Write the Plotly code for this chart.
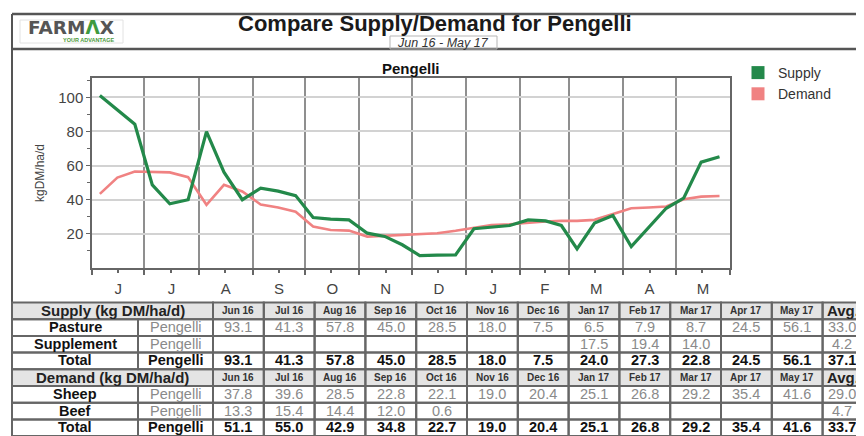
import plotly.graph_objects as go

W, H = 864, 436
OFF = 8                      # page body margin of the html page
FW, FH = W - OFF, H - OFF    # figure size so that it fills the window
FONT = "Arial, Liberation Sans, sans-serif"

# ---------------- chart data (dekad mid-points) ----------------
dates = [
    "2016-06-05 12:00", "2016-06-15 12:00", "2016-06-25 12:00",
    "2016-07-05 12:00", "2016-07-15 12:00", "2016-07-26",
    "2016-08-05 12:00", "2016-08-15 12:00", "2016-08-26",
    "2016-09-05 12:00", "2016-09-15 12:00", "2016-09-25 12:00",
    "2016-10-05 12:00", "2016-10-15 12:00", "2016-10-26",
    "2016-11-05 12:00", "2016-11-15 12:00", "2016-11-25 12:00",
    "2016-12-05 12:00", "2016-12-15 12:00", "2016-12-26",
    "2017-01-05 12:00", "2017-01-15 12:00", "2017-01-26",
    "2017-02-05 12:00", "2017-02-15 12:00", "2017-02-24 12:00",
    "2017-03-05 12:00", "2017-03-15 12:00", "2017-03-26",
    "2017-04-05 12:00", "2017-04-15 12:00", "2017-04-25 12:00",
    "2017-05-05 12:00", "2017-05-15 12:00", "2017-05-26",
]
supply = [101, 92.6, 84.2, 48.7, 37.6, 40, 79.9, 56.1, 40, 46.8, 45, 42.4,
          29.6, 28.6, 28.2, 20.4, 18.5, 13.6, 7.3, 7.5, 7.7, 23, 24.1, 24.9,
          28.2, 27.6, 24.9, 11.2, 26.3, 30.7, 12.6, 23.7, 35, 40.9, 62, 65.2]
demand = [43.4, 53, 56.5, 56.3, 56, 53.2, 37, 48.7, 44.8, 37.2, 35.4, 33,
          24.3, 22.3, 21.9, 18.4, 19.0, 19.4, 19.8, 20.4, 21.8, 23.7, 25.2, 25.6,
          26.6, 27.2, 27.6, 27.6, 28.2, 31.5, 35, 35.4, 36, 40.3, 41.8, 42.2]

mid_months = ["2016-06-16", "2016-07-16", "2016-08-16", "2016-09-16", "2016-10-16",
              "2016-11-16", "2016-12-16", "2017-01-16", "2017-02-15", "2017-03-16",
              "2017-04-16", "2017-05-16"]
month_alias = {"Jun": "J", "Jul": "J", "Aug": "A", "Sep": "S", "Oct": "O", "Nov": "N",
               "Dec": "D", "Jan": "J", "Feb": "F", "Mar": "M", "Apr": "A", "May": "M"}
y_ticks = [20, 40, 60, 80, 100]
y_minor = [10, 30, 50, 70, 90, 110]

# ---------------- table data ----------------
months = ["Jun 16", "Jul 16", "Aug 16", "Sep 16", "Oct 16", "Nov 16", "Dec 16",
          "Jan 17", "Feb 17", "Mar 17", "Apr 17", "May 17"]
pasture = [93.1, 41.3, 57.8, 45.0, 28.5, 18.0, 7.5, 6.5, 7.9, 8.7, 24.5, 56.1]
pasture_avg = 33.0
supplement = [None, None, None, None, None, None, None, 17.5, 19.4, 14.0, None, None]
supplement_avg = 4.2
supply_total = [93.1, 41.3, 57.8, 45.0, 28.5, 18.0, 7.5, 24.0, 27.3, 22.8, 24.5, 56.1]
supply_total_avg = 37.1
sheep = [37.8, 39.6, 28.5, 22.8, 22.1, 19.0, 20.4, 25.1, 26.8, 29.2, 35.4, 41.6]
sheep_avg = 29.0
beef = [13.3, 15.4, 14.4, 12.0, 0.6, None, None, None, None, None, None, None]
beef_avg = 4.7
demand_total = [51.1, 55.0, 42.9, 34.8, 22.7, 19.0, 20.4, 25.1, 26.8, 29.2, 35.4, 41.6]
demand_total_avg = 33.7
farm = "Pengelli"

SUPPLY_C = "#23894a"
DEMAND_C = "#f08282"

fig = go.Figure()
fig.add_trace(go.Scatter(x=dates, y=demand, mode="lines", name="Demand",
                         line=dict(color=DEMAND_C, width=2.6), showlegend=False))
fig.add_trace(go.Scatter(x=dates, y=supply, mode="lines", name="Supply",
                         line=dict(color=SUPPLY_C, width=3.2), showlegend=False))
# legend swatches
fig.add_trace(go.Scatter(x=[None], y=[None], mode="markers", name="Supply",
                         marker=dict(symbol="square", size=13, color=SUPPLY_C)))
fig.add_trace(go.Scatter(x=[None], y=[None], mode="markers", name="Demand",
                         marker=dict(symbol="square", size=13, color=DEMAND_C)))


def px(x):
    return (x - OFF) / FW


def py(y):
    return 1 - (y - OFF) / FH


fig.update_layout(
    width=FW, height=FH, margin=dict(l=0, r=0, t=0, b=0),
    paper_bgcolor="white", plot_bgcolor="white",
    font=dict(family=FONT, color="#333"),
    legend=dict(x=px(738), y=py(57), xanchor="left", yanchor="top",
                font=dict(size=14, color="#333"), bgcolor="rgba(0,0,0,0)",
                tracegroupgap=0),
    xaxis=dict(
        type="date", domain=[px(92), px(730)],
        range=["2016-06-01", "2017-06-01"],
        dtick="M1", tick0="2016-06-01", tickformat="%b", ticklabelmode="period",
        labelalias=month_alias,
        showgrid=True, gridcolor="#8f8f8f", gridwidth=1.5,
        ticks="outside", ticklen=5, tickcolor="#666", tickwidth=1.5,
        ticklabelstandoff=1,
        showline=True, linecolor="#666", linewidth=1.5, mirror=True,
        tickfont=dict(size=15, color="#444"),
        minor=dict(tickvals=mid_months, ticks="outside", ticklen=3,
                   tickcolor="#666", showgrid=False),
    ),
    yaxis=dict(
        domain=[py(268), py(78)], range=[0, 111.3],
        tickvals=y_ticks, showgrid=True, gridcolor="#d2d2d2", gridwidth=2,
        ticks="outside", ticklen=4, tickcolor="#666",
        showline=True, linecolor="#666", linewidth=1.5, mirror=True,
        zeroline=False, tickfont=dict(size=15, color="#444"),
        minor=dict(tickvals=y_minor, ticks="outside", ticklen=3,
                   tickcolor="#666", showgrid=False),
    ),
)

shapes = []
annots = []


def line(x0, y0, x1, y1, color="#555", width=2):
    shapes.append(dict(type="line", xref="paper", yref="paper",
                       x0=px(x0), y0=py(y0), x1=px(x1), y1=py(y1),
                       line=dict(color=color, width=width)))


def rect(x0, y0, x1, y1, fill=None, color="#666", width=2):
    shapes.append(dict(type="rect", xref="paper", yref="paper",
                       x0=px(x0), y0=py(y0), x1=px(x1), y1=py(y1),
                       fillcolor=fill if fill else "rgba(0,0,0,0)",
                       line=dict(color=color, width=width), layer="below" if fill else "above"))


def text(x, y, s, size=13, color="#333", bold=False, italic=False, angle=0,
         family=FONT, xanchor="center"):
    if bold:
        s = "<b>" + s + "</b>"
    if italic:
        s = "<i>" + s + "</i>"
    annots.append(dict(x=px(x), y=py(y), xref="paper", yref="paper", text=s,
                       showarrow=False, xanchor=xanchor, yanchor="middle",
                       textangle=angle, font=dict(size=size, color=color, family=family)))


# ---- frame & header ----
line(12, 14, 864, 14, "#555", 2.5)
line(12, 49, 864, 49, "#555", 2.5)
line(12, 14, 12, 436, "#555", 2)
rect(20, 20, 123, 43, None, "#e2e2e2", 1)
text(71, 27.5, "FARM<span style='color:#3f9a3f'>Λ</span>X", size=18.5, color="#555",
     bold=True, family="DejaVu Sans, Arial")
text(89, 40.5, "YOUR ADVANTAGE", size=5.5, color="#4a9a3a", bold=True)
text(435, 23.5, "Compare Supply/Demand for Pengelli", size=22, color="#1a1a1a", bold=True)
rect(390, 36, 497, 49, None, "#b5b5b5", 1)
text(443, 43, "Jun 16 - May 17", size=12.5, color="#333", italic=True)
text(411, 68, "Pengelli", size=15, color="#111", bold=True)
text(40, 173, "kgDM/ha/d", size=12, color="#444", angle=-90)

# ---- table ----
col_edges = [12, 138, 213] + [213 + 50.8 * (i + 1) for i in range(12)] + [866]
row_h = 16.7
row_top = 302.5
rows = [
    ("header", "Supply (kg DM/ha/d)", None, None),
    ("data", "Pasture", pasture, pasture_avg),
    ("data", "Supplement", supplement, supplement_avg),
    ("total", "Total", supply_total, supply_total_avg),
    ("header", "Demand (kg DM/ha/d)", None, None),
    ("data", "Sheep", sheep, sheep_avg),
    ("data", "Beef", beef, beef_avg),
    ("total", "Total", demand_total, demand_total_avg),
]
GRAY = "#8a8a8a"
for r, (kind, label, vals, avg) in enumerate(rows):
    y0 = row_top + r * row_h
    y1 = y0 + row_h
    yc = (y0 + y1) / 2 - 0.5
    fs = 14.5
    if kind == "header":
        rect(col_edges[0], y0, col_edges[-1], y1, "#e4e4e4", "#e4e4e4", 0)
        rect(col_edges[0], y0, col_edges[2], y1, None, "#666", 2)
        text((col_edges[0] + col_edges[2]) / 2, yc, label, size=15, color="#222", bold=True)
        for i, m in enumerate(months):
            xa, xb = col_edges[2 + i], col_edges[3 + i]
            rect(xa, y0, xb, y1, None, "#666", 2)
            text((xa + xb) / 2, yc, m, size=10, color="#333", bold=True)
        rect(col_edges[-2], y0, col_edges[-1], y1, None, "#666", 2)
        text(843, yc, "Avg.", size=15, color="#222", bold=True)
    else:
        is_total = kind == "total"
        rect(col_edges[0], y0, col_edges[1], y1, None, "#666", 2)
        text((col_edges[0] + col_edges[1]) / 2, yc, label, size=fs, color="#111", bold=True)
        rect(col_edges[1], y0, col_edges[2], y1, None, "#666", 2)
        text((col_edges[1] + col_edges[2]) / 2, yc, farm, size=fs,
             color="#111" if is_total else GRAY, bold=is_total)
        for i, v in enumerate(vals + [avg]):
            xa, xb = col_edges[2 + i], col_edges[3 + i]
            rect(xa, y0, xb, y1, None, "#666", 2)
            if v is not None:
                xc = 842 if i == 12 else (xa + xb) / 2
                text(xc, yc, f"{v:.1f}", size=fs,
                     color="#111" if is_total else GRAY, bold=is_total)

fig.update_layout(shapes=shapes, annotations=annots)
fig.write_html("out.html")
